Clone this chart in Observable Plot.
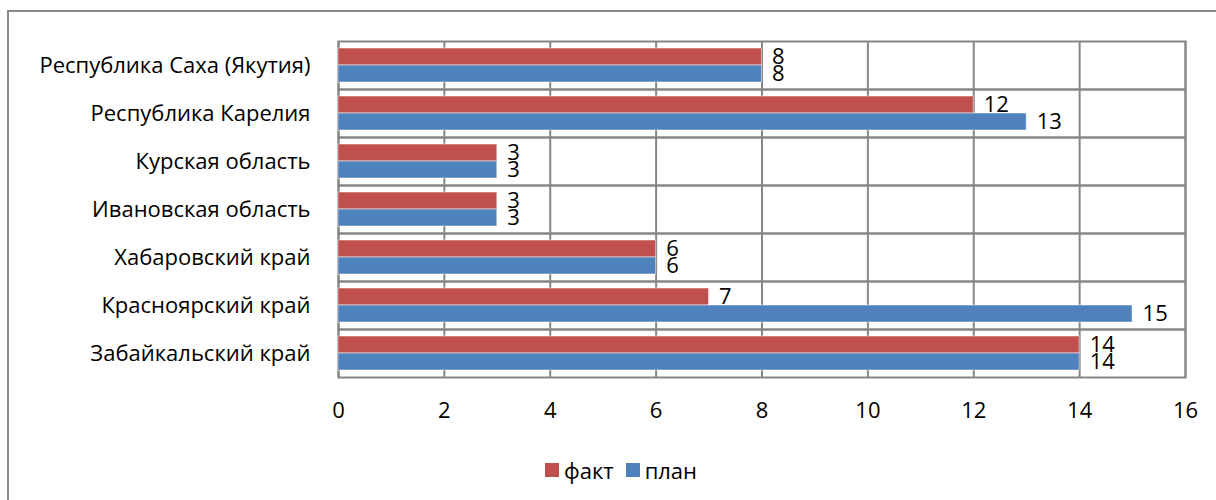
<!DOCTYPE html>
<html>
<head>
<meta charset="utf-8">
<script src="https://cdn.jsdelivr.net/npm/d3@7"></script>
<script src="https://cdn.jsdelivr.net/npm/@observablehq/plot@0.6"></script>
<style>
  html, body { margin: 0; padding: 0; background: #fff; }
  body { position: relative; width: 1216px; height: 500px; overflow: hidden; }
  #box { position: absolute; left: 7px; top: 10px; width: 1240px; height: 520px; border-top: 2px solid #8a8a8a; border-left: 2px solid #8a8a8a; box-sizing: border-box; }
  #chart { position: absolute; left: 0; top: 0; }
  #legend { position: absolute; top: 455px; left: 0; width: 1216px; display: flex; justify-content: center; align-items: center; font-family: "Open Sans", sans-serif; font-size: 22px; color: #000; padding-left: 26px; box-sizing: border-box; }
  .sw { display: inline-block; width: 14px; height: 14px; margin-right: 5px; }
  .item { display: inline-flex; align-items: center; margin: 0 6px; }
</style>
</head>
<body>
<div id="box"></div>
<div id="chart"></div>
<div id="legend"></div>
<script>
const categories = ["Республика Саха (Якутия)", "Республика Карелия", "Курская область", "Ивановская область", "Хабаровский край", "Красноярский край", "Забайкальский край"];
const series = ["факт", "план"];
const fakt = [8, 12, 3, 3, 6, 7, 14];
const plan = [8, 13, 3, 3, 6, 15, 14];
const colors = ["#C0504D", "#4F81BD"];
const xTicks = [0, 2, 4, 6, 8, 10, 12, 14, 16];

const data = [];
categories.forEach((c, i) => {
  data.push({category: c, series: series[0], value: fakt[i]});
  data.push({category: c, series: series[1], value: plan[i]});
});

const font = "'Open Sans', sans-serif";
const plot = Plot.plot({
  width: 1216,
  height: 427,
  marginLeft: 338,
  marginRight: 31,
  marginTop: 40,
  marginBottom: 50,
  style: {fontFamily: font, fontSize: "22px", color: "#000", background: "transparent"},
  x: {domain: [0, 16], ticks: xTicks, tickSize: 0, tickPadding: 25, label: null},
  y: {domain: series, axis: null, paddingInner: 0, paddingOuter: 0.41},
  fy: {domain: categories, padding: 0, label: null, tickSize: 0, tickPadding: 28, axis: "left", fontSize: 23},
  color: {domain: series, range: colors},
  marks: [
    Plot.gridX(xTicks, {stroke: "#868686", strokeOpacity: 1, strokeWidth: 2}),
    Plot.frame({stroke: "#868686", strokeWidth: 2}),
    Plot.barX(data, {x: "value", y: "series", fy: "category", fill: "series", stroke: "#ffffff", strokeOpacity: 0.5, strokeWidth: 1}),
    Plot.text(data, {x: "value", y: "series", fy: "category", text: d => String(d.value), dx: 10, textAnchor: "start", fill: "#000", fontSize: 22})
  ]
});
document.getElementById("chart").appendChild(plot);

const legend = document.getElementById("legend");
series.forEach((s, i) => {
  const it = document.createElement("span");
  it.className = "item";
  const sw = document.createElement("span");
  sw.className = "sw";
  sw.style.background = colors[i];
  it.appendChild(sw);
  it.appendChild(document.createTextNode(s));
  legend.appendChild(it);
});
</script>
</body>
</html>
